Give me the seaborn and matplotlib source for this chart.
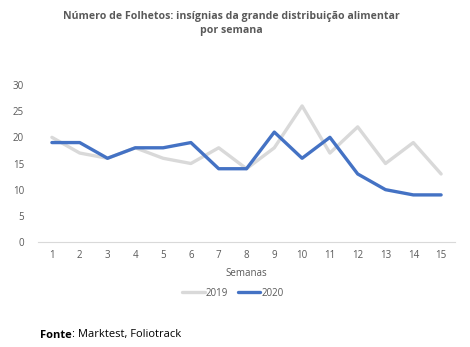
import numpy as np
import pandas as pd
import matplotlib
matplotlib.use("Agg")
import matplotlib.pyplot as plt
import seaborn as sns

weeks = list(range(1, 16))
folhetos_2019 = [20, 17, 16, 18, 16, 15, 18, 14, 18, 26, 17, 22, 15, 19, 13]
folhetos_2020 = [19, 19, 16, 18, 18, 19, 14, 14, 21, 16, 20, 13, 10, 9, 9]
series_labels = ["2019", "2020"]
y_ticks = [0, 5, 10, 15, 20, 25, 30]

df = pd.DataFrame({
    "Semana": weeks * 2,
    "Folhetos": folhetos_2019 + folhetos_2020,
    "Ano": [series_labels[0]] * len(weeks) + [series_labels[1]] * len(weeks),
})

sns.set_theme(style="white")
plt.rcParams["font.family"] = ["Open Sans", "DejaVu Sans"]

fig = plt.figure(figsize=(4.7, 3.47), dpi=100)
ax = fig.add_axes([38 / 470, 1 - 242 / 347, (455 - 38) / 470, (242 - 85) / 347])

palette = {"2019": "#D9D9D9", "2020": "#4472C4"}
sns.lineplot(data=df, x="Semana", y="Folhetos", hue="Ano", palette=palette,
             linewidth=2.4, ax=ax, legend=False)

ax.set_xlim(0.5, 15.5)
ax.set_ylim(0, 30)
ax.set_yticks(y_ticks)
ax.set_xticks(weeks)
ax.set_xticklabels([str(w) for w in weeks])
ax.set_xticks(np.arange(0.5, 16.0, 1.0), minor=True)
ax.tick_params(axis="x", which="major", length=0, labelsize=7, colors="#595959", pad=6)
ax.tick_params(axis="x", which="minor", length=4, width=0.8, color="#D9D9D9", direction="out")
ax.tick_params(axis="y", length=0, labelsize=7, colors="#595959", pad=10)
ax.set_xlabel("")
ax.set_ylabel("")
for side in ["top", "right", "left"]:
    ax.spines[side].set_visible(False)
ax.spines["bottom"].set_color("#D9D9D9")
ax.spines["bottom"].set_linewidth(0.8)

fig.text(0.493, 1 - 17 / 347, "Número de Folhetos: insígnias da grande distribuição alimentar",
         ha="center", va="center", fontsize=7.6, fontweight="bold", color="#595959")
fig.text(0.493, 1 - 31 / 347, "por semana",
         ha="center", va="center", fontsize=7.6, fontweight="bold", color="#595959")

fig.text(246 / 470, 1 - 274 / 347, "Semanas", ha="center", va="center",
         fontsize=7, color="#595959")

# legend
handles = [plt.Line2D([], [], color=palette[s], linewidth=2.4) for s in series_labels]
fig.legend(handles, series_labels, loc="center", bbox_to_anchor=(233 / 470, 1 - 293 / 347),
           ncol=2, frameon=False, fontsize=7, handlelength=2.3, handletextpad=0.1,
           columnspacing=1.0, labelcolor="#595959")

# source note: bold label followed by regular text
src_label = fig.text(40 / 470, 1 - 335 / 347, "Fonte", ha="left", va="center",
                     fontsize=8, fontweight="bold", color="black")
fig.canvas.draw()
bb = src_label.get_window_extent()
fig.text(bb.x1 / fig.bbox.width, 1 - 335 / 347, ": Marktest, Foliotrack", ha="left",
         va="center", fontsize=8, color="black")

fig.savefig("out.png", dpi=100)
